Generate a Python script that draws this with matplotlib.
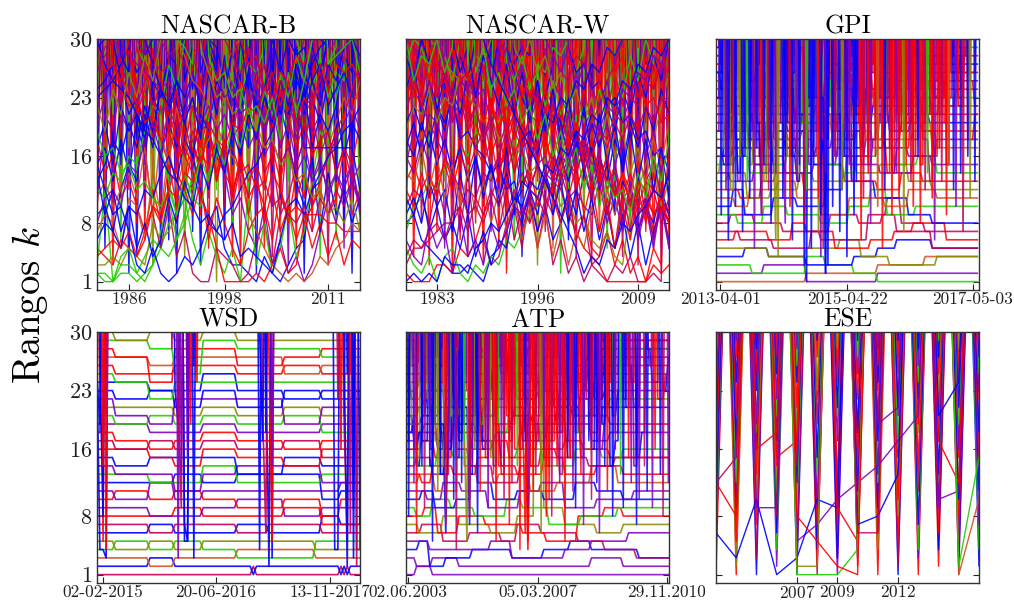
import re
import numpy as np
import pandas as pd
import matplotlib
matplotlib.use("Agg")
import matplotlib.pyplot as plt
import matplotlib.dates as mdates

plt.rcParams['font.family'] = 'serif'
plt.rcParams['font.serif'] = ['cmr10']
plt.rcParams['mathtext.fontset'] = 'cm'
plt.rcParams['axes.formatter.use_mathtext'] = True

# ---------------- data ----------------
# rank code: 1-9 -> 1..9, A..U -> 10..30, '.' -> outside the top 30
# a token "X*n" means rank X held for n consecutive time steps
# a spike token "s:X" means an entrant ranked X at step s only
RANK_KEY = "123456789ABCDEFGHIJKLMNOPQRSTU"
Y_TICKS = [1, 8, 16, 23, 30]

NB_YEARS = list(range(1982, 2016))
NB_TICKS = [1986, 1998, 2011]
NB_RANKS = [
    "22133246589BDGK.T.................",
    "5436547A8CFJ.NRU..................",
    "3C1452137B69EHM.R.................",
    "OPR.TQSU..MKGC8A53321421356CDGJ.T.",
    "...LJMH95A47211543126839BFIM.R....",
    "IEGBDA7C8FADJHLP.SU...............",
    "KNQT.US....RPMJGE9B75A3624137B8DF9",
    "..UPLNJOGKHMPNTQ.S..U..ROLQNKPMSQ.",
    "7985BA6E9HCGKIN.QTU...............",
    ".....TRLHD9B6374251C3825A47DJHNR..",
    "FHDIEKGNLQ.PT.S..RNQLOJNKQMSPU....",
    "....SPNKIFEC9D6B85379A6C8EBG......",
    "QTUS..RMOJLGIEKDHAFBJEG9KHNM.QS.U.",
    "ALJPN.ROU...TSQOMPKRNIOLRQU.......",
    "9A7CFDLHPK.S..U.......QMIDAG7E9C8B",
    "CBEDGFJMLROU....SPNRQT...UROSNQP.S",
    "....ULOIMGKCHFJEIBGDFCHDIBEAC9BH9C",
    "HKFMJLIPNSR..QUTPNLQMORLP..TQU....",
    "BDACEBH9JFMHNKQOS.......URPOMHKNLP",
    "6875A9CBEGDIGLJPNT.....QUSTPRMOQN.",
    ".U.QNTPSQR..UNRMOKPNIMJOLHKGIJEHFK",
    "P..ROMPQUSTRSPQMRIOLPKNMQJRNPSUR..",
    "DFIGKHMJOLPNQMUR.TP.SOUQNTLPMRPTUS",
    "8BCAFEIKGMJLQNS..US.QNPKOIMJLGIKMJ",
    "NOPRT.U..................NHHHHHHHC",
    "UQROMNKLIJGHFIDGECFBDAEC9A99988777",
    "211221235468BAEGK.Q...............",
    "33435438679DCGIKNQ................",
    "FC9A7325212435879ACEFHJMLPNRTU....",
    "......URPLIGEB9511112135238ADGJLOR",
    "..........USPOMKHGE975321212435687",
    "URPONLJIGEDBA89768454326AB9CEGHJKM",
    "QSU..TQROPNLMJKIGHEFCDAB98A7B9CADB",
    "..UTSRQPONMLNKMJLIKHJGIFHEGDFCEBDA",
    "JGHEFCDBAC9EBGDIFKHMJOLQNSPU.RT.U.",
    "..RPUNSLQJOHMFKDIBG9E8C7A695847365",
    "TU.SQ.UROMPKNIQLSJUO.RM.QKOHLJMGKI",
    "MJOLQNSPU.R..TQNOLMJKHIFGDEBC9A8B7",
    "E9C7A5846B8DAFCHEJGLINKPMRO.UT....",
    "4565746A9CBEDGFIHKJMLONQPSRU......",
    ".............URQNOLMPJMHKFIDGBECFA",
    "................USQTORMPKNILGJEHDF",
    "..........UTR.SPQNOLMKNIQLPU.RSTUQ",
    "..................URSOQMPKNLRORQRP",
]
NB_COLORS = "grgbmrpbngbrmpbgrbnbrmbpbrgobrnbmpgrbobrpm"
# drivers ranked in a single season only (one string per season)
NB_SINGLE = [
    "7CGJLNPQSTU", "5AEHKMORSTU", "39DGJLNQRTU", "6BFIKMPQSU", "2CEHJLORTU",
    "48DGIMNPSTU", "7AFHKLOQRU", "3BEIJMNPSTU", "59CGKLORSU", "6ADHJMPQTU",
    "28EFIKNORSU", "4BCGJLMPQTU", "7ADHKNOQRU", "39EGILMPSTU", "5BFHJKNORU",
    "1CDGILMPQSU", "6AEHJKOPRTU", "48BFIMNQSU", "3CDGJLORTU", "7AEHKMNPSTU",
    "29BFIJLOQRU", "5CDGHKMNQSU", "4AEFIJLPRTU", "6BCHKMNOQSU", "38DGIJLPRTU",
    "5AEFHKMOQSU", "2BCGIJNPRTU", "7ADFHLMOQSU", "49EGIKNPRTU", "3BCFJLMOQSU",
    "6ADHIKNPRTU", "58EGJLMOQSU", "2BCFHKNPRTU", "7ADGIJMOQSU",
]
NB_SINGLE_COLORS = "rbmpognbrmpbrg"

NW_YEARS = list(range(1979, 2014))
NW_TICKS = [1983, 1996, 2009]
NW_RANKS = [
    "89654322321457ACFJNR...............",
    "21113325469BEHLPT..................",
    "53241452132436579BDGJMQT...........",
    "ACB8D9F7E56348A5C7B9EDGIKMPRU......",
    "GEIFKHNJQMROTQU..S.PNLQJMHKFICGDFB9",
    "KMJOLQNSPU.R.TQNLPIMKGJEHCF9DB7A8C9",
    "...ROPMKNILGJEHCFADB8C695473624153.",
    "3556788ACBEDGFJHLKOMQPSRU..........",
    "...UTRQPNMKLIJGHEFCDAB8965743ACFIMQ",
    "QNSPUR..TORMPKNIQLOJMHKFIDGBEC9B7A8",
    "ORLPMKNIJHGEFCD9B7A68C9EBGDIFKHMJOL",
    "UTS.RQ.PON..USPRNOKMJLHIFGDEBCA9C8B",
    "7ABDCFEHGJILKNMPORQTSU..R.TSU......",
    "....URSPQNOKMJLHIFGDEBCA9D8B7C6A5B9",
    "IGKHMJOLQNSPU.RTS.U..TQROPMNKLIJGHE",
    "DFCEBGDIFKHMJOLQNSPU.RT...UQSOPMNKL",
    "NQMPLOKNJMILHKGJFIEHDGCFBE9D8CAB9A8",
    "PSORNQMPLOKNJMILHKGJFIEHDGCFBEADCBE",
    "B9C7A685947365A8C9EBGDIFKHMJOLQNSPU",
    "FJHLKNMPORQTSU.R..USQTOROMPKNILGJEH",
    "UTQ.NRK.MHJEG9C7B5A362413213241121.",
    "...............UQMIFC97543111111323",
    "HKGJFIEHDGCFBEADCBE9D8C7B6A594837A6",
    "RUTQ.SPU.QTN.RPSOQMPLNJMKOLQNSPUR.T",
    "LPNSQU.RT.UPSOMQKNILGJEHCF9D8B7A6C5",
    "CAEBDFCGEHFIDJEKGLHMINJOKPLQMRNSOTP",
    "TQU.RS.UPR..QTNRLPJNHLFJDH9F8D7B6A5",
    "9B8DAC7E9GBFAH9IJGLKNMPORQTSU......",
    "...UQRNPKMIKGJEHCFAD8B6934A5C7E9GB",
    "JMLOKNMQPSRU..TRUQSOQMOKNILGJEHCFAD",
    "EDHCGBFAE9D8C7B6A5948375A7C9EBGDIFK",
    "...UR.TPQNRLPJNHLFJDHBF9D7B5A6C8E9G",
    "SPUR..UQTNSPMRLQKPJOINHMGLFKEJDICHB",
    "4657869A7B9CADBECFDGEHFIGJHKILJMKNL",
    "64385729463857A9CBEDGFIHKJMLONQPSRU",
    "MROTQ.SUPR..UPSNQLOJMHKFIDGBEADC9B8",
    "UPSRUQT.R.TOQMOKMILGJEHCFADBC9EBGDI",
    "..........URPNLJHFDB97524365879ACBE",
    "QOMKIGEC9A8B7C6A8B9DCFEHGJILKNMPORQ",
    "12121433256879BADCFEHGJILKNMPORQTSU",
]
NW_COLORS = "brgmpbrmorbmgpbrmrbpmrbgmrpbmonrbmprgbm"
NW_SINGLE = [
    "6BEHKMPRTU", "4ACGJLNQSU", "8DFIKNOQTU", "3BEGJMPRSU", "7ACHKLOQTU",
    "5DFIJNPRSU", "29BGKMOQTU", "6ACEHLNRSU", "4DFIJMPQTU", "8BCGKLORSU",
    "3AEHJNPQTU", "7DFIKMORSU", "5BCGJLNQTU", "29AEHKMPRSU", "6DFIJNOQTU",
    "4BCGKLPRSU", "8AEHJMNQTU", "3DFIKLORSU", "7BCGJMPQTU", "5AEHKNORSU",
    "2DFIJLPQTU", "6BCGKMNRSU", "4AEHJLOQTU", "8DFIKMPRSU", "3BCGJNOQTU",
    "7AEHKLPRSU", "5DFIJMNQTU", "9BCGKLORSU", "4AEHJMPQTU", "6DFIKNORSU",
    "38BCGJLPQTU", "7AEHKMNRSU", "5DFIJLOQTU", "2BCGKMPRSU", "6AEHJNOQTU",
]
NW_SINGLE_COLORS = "rmpormrbmgrn"

GPI_START, GPI_STEPS = "2013-03-11", 111          # fortnightly
GPI_XLIM = ("2013-03-08", "2017-06-08")
GPI_TICKS = ["2013-04-01", "2015-04-22", "2017-05-03"]
GPI_LABELS = ["2013-04-01", "2015-04-22", "2017-05-03"]
GPI_RANKS = [
    "1*38 2*30 3*20 4*23",
    "2*20 3*18 1*30 2*43",
    "3*15 2*23 4*8 3*12 2*10 1*43",
    "4*12 5*10 4*16 3*20 4*10 5*8 6*15 5*20",
    "5*22 4*16 5*14 6*9 4*12 3*20 4*18",
    "6*8 7*14 6*10 8*6 7*12 5*15 6*10 7*8 8*14 6*14",
    "7*10 6*14 5*16 7*8 9*12 8*10 9*6 7*15 5*20",
    "8*6 9*10 8*12 7*16 6*20 9*8 B*6 8*10 7*23",
    "9*9 8*11 A*10 9*14 8*12 A*9 C*7 9*12 A*27",
    "A*7 C*5 9*12 B*10 A*12 C*8 .*3 D*10 B*14 9*10 8*20",
    "B*8 A*6 C*12 D*8 B*10 9*12 B*15 A*10 C*12 B*18",
    "C*10 B*9 D*6 E*12 C*10 .*2 F*5 D*14 C*10 E*9 D*24",
    "D*5 E*8 B*10 C*12 E*6 D*14 G*4 E*10 F*12 D*10 C*20",
    "E*6 D*10 F*8 G*5 E*12 F*10 H*6 F*12 E*14 G*8 F*20",
    "F*8 G*6 E*9 F*7 H*5 G*10 F*8 E*6 G*9 H*7 F*10 G*8 E*18",
    "G*7 H*9 F*6 .*2 I*8 G*10 H*7 J*5 G*9 I*8 H*10 G*12 I*18",
    "H*9 I*7 G*8 J*6 H*10 .*3 K*6 I*9 J*8 H*10 I*7 J*10 H*18",
    "I*6 J*8 H*7 K*9 I*6 J*10 L*5 J*8 .*2 K*7 I*10 K*9 J*24",
    "J*8 K*6 I*9 L*7 J*8 K*9 .*3 L*6 K*10 M*7 J*9 L*8 K*21",
    "K*7 L*9 J*6 M*8 K*7 .*4 M*6 L*10 N*5 K*9 M*8 L*10 M*22",
    "L*9 M*6 K*8 .*3 N*7 L*9 M*8 O*5 L*10 N*7 .*2 M*9 N*8 L*20",
    "M*6 N*8 L*7 O*9 M*6 .*3 N*8 P*5 M*9 O*7 N*10 .*2 O*8 N*23",
    "N*8 O*6 M*9 .*2 P*7 N*8 Q*5 O*9 .*3 P*7 N*10 O*8 P*8 O*21",
    "O*7 P*8 N*6 Q*7 .*3 O*9 P*6 R*5 .*2 Q*8 O*9 P*10 Q*7 P*24",
    "P*6 Q*7 .*2 R*8 P*6 Q*9 S*5 .*3 R*7 P*8 Q*10 .*2 R*9 Q*29",
    "Q*8 R*6 P*7 .*3 S*6 Q*9 R*7 .*2 T*5 R*8 S*9 .*3 Q*8 R*30",
    "R*5 S*7 .*3 T*6 R*8 .*2 S*9 U*5 .*3 T*7 R*9 S*8 .*2 T*7 S*30",
    "S*6 .*2 T*7 U*5 .*3 S*8 T*6 .*2 U*7 S*9 .*3 T*8 R*7 .*2 U*6 T*30",
    "T*5 U*6 .*4 S*7 .*3 U*6 T*8 .*2 S*7 U*6 .*3 T*9 .*2 S*8 U*5 .*30",
    "U*7 .*3 T*6 .*4 U*5 S*6 .*3 T*7 U*4 .*2 R*6 .*3 U*8 T*7 .*2 S*28",
    "N*2 .*1 K*3 M*2 .*2 P*3 L*4 .*1 O*2 R*3 .*2 J*4 H*3 .*3 S*2 M*4 .*1 Q*3 N*2 .*4 L*3 I*5 .*2 T*2 O*3",
    "Q*3 T*2 .*2 N*4 R*2 .*3 M*3 P*2 .*1 U*2 L*3 .*2 O*4 K*2 .*3 R*2 N*3 .*1 4*1 .*2 P*3 S*2 .*2 M*4 Q*2 .*3 N*2 T*3 .*5 R*2 O*3",
    ".*2 S*3 P*2 U*3 .*2 Q*4 M*2 .*3 T*2 O*3 R*2 .*2 K*4 N*2 .*1 3*1 .*1 S*3 P*2 .*3 Q*4 U*2 .*2 O*3 L*3 .*4 R*2 T*3 .*2 N*4 .*3 P*2",
    "K*4 I*3 .*1 L*3 N*2 J*4 .*2 M*3 H*4 K*2 .*2 O*3 L*4 .*1 I*3 G*2 .*2 5*1 .*2 M*3 J*4 .*3 N*2 P*3 .*2 L*3 O*4 .*3 Q*2 S*3",
    "T*2 .*3 R*2 O*3 .*1 Q*4 U*2 .*2 S*3 P*2 .*4 N*3 R*2 .*2 T*3 M*2 .*1 Q*3 .*2 2*1 .*1 O*3 S*2 .*2 P*4 .*3 R*2 U*3 .*4 Q*2 N*3",
    "P*3 M*2 .*2 R*3 O*2 .*1 N*4 Q*2 .*3 L*2 P*3 .*2 S*2 N*4 .*1 K*3 O*2 .*2 7*1 .*1 Q*3 M*2 .*4 R*3 P*2 .*2 N*3 .*5 T*2 O*2 .*6 S*3",
    "S*4 .*2 P*3 U*2 .*3 R*2 N*3 .*1 Q*4 T*2 .*2 O*3 .*2 S*2 P*4 .*3 R*2 M*3 .*2 Q*3 U*2 .*3 N*4 P*2 .*2 T*3 R*2 .*4 O*3 Q*2 S*2",
    "U*2 R*3 .*3 T*2 Q*3 .*2 S*4 O*2 .*3 U*2 R*3 .*2 P*4 .*1 T*2 S*3 .*2 Q*4 N*3 .*2 R*2 U*3 .*1 O*4 L*2 .*2 Q*3 N*2 .*1 S*3 P*4 .*2 M*3",
    ".*50 R*3 O*2 .*2 T*3 P*2 .*1 M*4 Q*2 .*2 N*3 K*2 .*3 S*2 O*4 .*1 R*3 L*2 .*2 P*4 N*3 .*2 T*2 Q*3",
    ".*45 N*4 .*2 Q*3 S*2 .*3 O*4 M*2 .*1 R*3 P*2 .*2 U*3 N*4 .*2 K*3 .*1 Q*2 O*4 .*3 M*3 R*2 .*2 P*3 T*2",
    ".*55 P*2 T*3 .*2 R*4 N*2 .*1 S*3 Q*2 .*3 O*2 L*4 .*2 U*3 R*2 .*1 N*3 P*4 .*2 S*2 M*3 .*1 Q*4",
    ".*40 S*3 .*2 U*2 Q*4 .*1 O*3 R*2 .*2 M*4 P*3 .*3 T*2 N*3 .*2 Q*4 K*2 .*1 R*3 O*2 .*2 L*4 N*3 .*1 S*2 U*3",
    ".*60 L*3 I*2 .*2 O*4 M*3 .*1 Q*2 J*3 .*3 N*4 K*2 .*2 P*3 R*2 .*1 M*4 O*3 .*2 I*3 L*2",
    ".*62 U*3 R*2 .*1 T*4 P*3 .*2 S*2 Q*3 .*1 O*4 R*2 .*3 N*3 U*2 .*2 Q*4 S*3 .*1 P*2 M*3",
    "R*3 .*3 O*2 T*3 .*2 Q*4 .*40 S*2 P*3 .*2 R*4 N*2 .*3 U*2 Q*3 .*1 O*4 M*2 .*2 S*3 R*2 .*2 P*4 T*3 .*1 N*3",
    "M*5 O*3 .*2 L*4 N*3 .*1 K*5 P*2 .*3 I*4 M*3 .*2 J*4 L*3 .*1 N*4 K*3 .*2 H*5 J*3 .*2 L*4 I*3 .*1 M*4 K*3 .*2 N*4 L*3",
    "O*4 Q*3 .*2 N*5 P*2 .*3 L*4 O*3 .*1 R*4 M*3 .*2 K*5 N*2 .*2 P*4 L*3 .*1 O*3 Q*4 .*2 M*3 N*4 .*3 R*2 O*3 .*1 L*5 P*3",
    "H*3 F*4 .*1 I*3 G*2 .*2 J*4 E*3 .*2 K*2 H*4 .*1 G*3 J*2 .*2 1*1 .*2 F*4 I*3 .*2 L*3 G*2 .*3 H*4 K*2",
    "J*6 L*4 .*2 H*5 K*3 .*1 M*4 I*5 .*2 G*6 J*4 .*2 L*5 H*3 .*1 K*5 N*3 .*2 I*6 L*4 .*2 J*5 M*4 .*1 K*6 H*4",
    "L*4 .*2 N*3 J*4 .*1 O*3 K*4 .*2 M*5 P*3 .*1 I*4 L*3 .*2 N*5 Q*2 .*1 K*4 M*3 .*2 J*5 O*3 .*1 L*4 N*3 .*2 P*4 K*3",
    "Q*2 O*3 .*1 S*2 M*4 .*2 P*3 R*2 .*1 N*4 U*2 .*3 O*3 Q*2 .*1 L*3 T*2 .*2 N*4 2*1 .*3 R*3 P*2 .*2 S*3 O*2",
    ".*35 T*2 Q*3 .*1 R*4 U*2 .*2 O*3 S*2 .*1 P*4 N*3 .*2 T*2 R*3 .*1 Q*4 M*2 .*2 U*3 O*2 .*1 S*4 P*3 .*2 R*3 N*2 .*1 Q*3",
    "J*2 .*2 F*2 .*1 L*2 D*2 .*3 I*2 .*2 G*2 N*2 .*1 E*2 .*2 K*2 8*1 .*2 H*2 .*3 M*2 F*2 .*1 J*2",
    ".*3 G*2 .*2 M*2 E*2 .*1 H*3 .*2 K*2 9*1 .*2 I*2 F*2 .*3 L*2 .*1 G*2 D*2 .*2 N*2",
    "E*2 H*2 .*2 C*2 .*1 J*3 .*2 F*2 L*2 .*2 D*2 .*1 I*2 6*1 .*2 K*2 G*2 .*2 E*2",
    ".*55 I*2 .*2 L*2 F*2 .*1 N*2 .*2 H*3 K*2 .*1 E*2 .*2 J*2 M*2 .*1 G*2 .*2 I*3 D*2 .*2 L*2 .*1 F*2",
    ".*60 K*2 G*3 .*2 M*2 .*1 I*2 E*2 .*2 L*3 .*1 H*2 N*2 .*2 F*2 .*1 J*3 G*2 .*2 K*2",
    ".*50 G*2 .*2 J*3 D*2 .*1 M*2 .*2 F*2 I*2 .*1 K*3 .*2 E*2 H*2 .*2 L*2 .*1 I*3",
]
GPI_COLORS = ("npgbormmgbnropgpnrbomgrpmbrgop"
              "bpbmbopmrnrmrmrogbnpbrpbomrp")
GPI_SPIKES = ("2:9 4:C 5:6 7:E 8:A 10:G 11:7 13:D 14:B 16:5 17:H 19:9 20:F "
              "22:C 23:8 25:E 26:4 28:B 29:G 31:A 32:6 34:D 35:F 37:8 38:C "
              "40:5 41:H 43:B 44:9 46:E 47:3 49:A 50:G 52:7 53:C 55:4 56:F "
              "58:9 59:D 61:6 62:B 64:E 65:8 67:G 68:A 70:5 71:C 73:H 74:9 "
              "76:E 77:B 79:7 80:F 82:D 83:A 85:G 86:8 88:C 89:E 91:B 92:6 "
              "94:H 95:D 97:9 98:F 100:C 101:A 103:E 104:7 106:G 107:B 109:D")
GPI_SPIKE_COLORS = ("bpbmbobgbpbrbmbpobbrbpbmgbbrbpbbmbobpbb"
                    "rmrprnrbmrprormrbrmgrprmrn")

WSD_START, WSD_STEPS = "2015-01-05", 86          # fortnightly
WSD_XLIM = ("2015-01-06", "2018-03-27")
WSD_TICKS = ["2015-02-02", "2016-06-20", "2017-11-13"]
WSD_LABELS = ["02-02-2015", "20-06-2016", "13-11-2017"]
WSD_RANKS = [
    "1*50 2*1 1*27 2*1 1*1 2*1 1*5",
    "2*17 3*8 2*25 1*1 2*27 1*1 2*1 1*1 2*5",
    "3*17 2*8 3*20 4*25 3*16",
    "4*6 5*11 4*8 5*9 4*11 3*25 5*16",
    "5*6 4*11 5*8 4*9 5*11 5*25 4*16",
    "6*17 7*8 6*20 7*10 6*17 8*6 7*8",
    "7*17 6*8 7*20 6*10 7*17 6*14",
    "8*25 9*9 8*11 8*15 9*12 7*14",
    "9*17 8*8 8*9 9*11 A*15 8*12 9*14",
    "A*6 B*11 A*8 B*9 A*11 9*15 A*12 8*6 A*8",
    "B*6 A*11 C*8 A*9 B*11 B*15 B*12 B*6 C*8",
    "C*25 D*9 C*11 D*27 A*6 B*8",
    "D*17 C*8 C*9 E*11 C*15 C*12 D*14",
    "E*6 D*11 D*8 B*9 D*11 E*27 C*14",
    "F*6 E*11 F*8 F*9 F*11 D*15 F*12 E*14",
    "G*17 F*8 E*9 G*11 F*15 E*12 G*14",
    "H*6 G*11 H*8 G*9 H*11 G*15 H*12 F*14",
    "I*6 H*11 G*8 H*9 I*11 H*15 G*12 H*14",
    "J*17 I*8 I*9 J*11 I*15 I*12 J*14",
    "K*6 J*11 K*8 J*9 K*11 J*15 K*12 I*14",
    "L*17 L*8 K*9 L*11 K*15 L*12 K*14",
    "M*6 K*11 J*8 M*9 M*11 M*15 J*12 L*14",
    "N*6 M*11 N*8 L*9 N*11 L*15 N*12 M*14",
    "O*17 N*8 N*9 P*11 N*15 M*12 N*14",
    "P*6 O*11 M*8 O*9 O*11 O*15 O*12 O*14",
    "Q*6 P*11 P*8 Q*9 Q*11 P*15 Q*12 P*14",
    "R*17 Q*8 R*9 R*11 R*15 P*12 Q*14",
    "S*6 R*11 O*8 S*9 S*11 Q*15 R*12 S*14",
    "T*17 S*8 P*9 T*11 S*15 S*12 R*14",
    "U*6 T*11 U*8 T*9 U*11 T*15 T*12 T*14",
    "R*1 4*2 3*1 .*82",
    "G*1 .*1 5*1 .*83",
    "I*2 .*1 K*1 .*82",
    ".*1 Q*1 8*1 .*83",
    "M*1 .*2 4*1 .*82",
    ".*3 N*1 .*82",
    "P*1 J*1 .*84",
    ".*2 E*1 .*83",
    ".*25 N*1 J*1 .*1 5*2 .*1 Q*1 .*55",
    ".*26 3*1 .*2 H*1 .*56",
    ".*28 7*1 5*1 .*1 U*1 .*55",
    ".*24 S*1 .*1 L*1 9*1 .*58",
    ".*29 N*1 .*1 3*1 .*54",
    ".*30 J*1 .*1 O*1 .*53",
    ".*27 D*1 .*1 F*1 .*56",
    ".*52 4*1 .*1 Q*1 2*1 .*31",
    ".*53 K*1 6*1 .*31",
    ".*54 I*1 .*1 3*1 .*29",
    ".*55 R*1 5*1 .*29",
    ".*52 U*1 H*1 .*32",
    ".*56 E*1 .*29",
    ".*76 4*2 .*1 K*1 .*2 3*1 .*3",
    ".*77 M*1 .*1 J*1 5*1 .*5",
    ".*79 R*1 2*1 .*1 9*1 .*3",
    ".*78 G*1 .*2 P*1 .*4",
    ".*81 6*1 .*1 4*2 .*1",
    ".*80 P*1 .*1 H*1 .*3",
    ".*83 2*1 .*1 S*1",
    ".*82 D*1 .*1 7*1 .*1",
]
WSD_COLORS = "mbngobmrprpbgpbrmrpgopbbgrnrgobrpbrmbrbpbmbrpbmbrbpbmbrmb"

ATP_START, ATP_STEPS = "2003-05-12", 100          # four-weekly
ATP_XLIM = ("2003-05-12", "2010-12-20")
ATP_TICKS = ["2003-06-02", "2007-03-05", "2010-11-29"]
ATP_LABELS = ["02.06.2003", "05.03.2007", "29.11.2010"]
ATP_RANKS = [
    "3*4 2*6 1*90",
    "1*4 2*6 3*10 2*50 3*12 2*18",
    "4*5 5*4 2*6 3*10 4*15 3*12 4*10 5*8 4*18 3*12",
    "5*9 4*11 4*12 5*8 3*20 4*10 5*14 6*16",
    "6*6 7*8 5*10 6*12 5*6 7*9 6*14 5*10 4*12 3*13",
    "7*5 6*9 8*6 7*12 6*10 8*7 .*3 9*8 7*12 6*10 7*18",
    "8*7 9*5 6*8 8*10 7*14 6*9 5*12 8*10 9*7 8*18",
    "9*4 8*6 A*7 9*9 8*12 A*6 9*10 7*12 8*14 9*20",
    "A*6 B*5 9*8 A*6 .*2 C*6 A*9 B*10 A*12 C*8 B*10 A*18",
    "B*8 A*6 C*7 B*10 9*12 B*8 C*9 9*12 A*14 B*14",
    "C*5 D*6 B*9 .*2 E*5 C*8 D*12 B*10 C*13 E*10 C*20",
    "D*6 C*4 E*8 D*9 F*5 .*3 E*7 D*10 F*8 D*12 E*10 D*18",
    "E*4 F*6 D*7 .*2 G*5 E*9 C*10 E*8 G*6 F*12 E*10 F*21",
    "F*5 E*7 G*6 F*8 .*3 H*4 F*9 G*10 E*12 G*10 F*8 G*18",
    "G*6 H*5 F*7 .*2 I*5 G*8 H*6 F*7 J*5 G*9 H*7 G*10 F*23",
    "H*5 I*7 G*6 J*5 .*3 H*8 I*6 K*4 H*9 I*7 .*2 J*8 H*7 I*23",
    "I*7 J*5 H*6 K*7 I*5 .*3 J*8 L*4 I*9 K*6 J*8 .*2 K*7 J*23",
    "J*6 K*7 .*2 L*5 J*8 K*6 M*4 .*3 K*7 J*9 L*6 K*8 .*2 L*27",
    "K*5 L*6 J*7 .*3 M*5 K*8 L*6 .*2 N*4 L*9 M*7 K*8 L*7 M*23",
    "L*7 M*5 .*2 N*6 L*7 M*8 .*3 O*4 M*8 N*6 L*9 .*2 M*8 N*25",
    "M*6 N*7 L*5 .*3 O*6 M*8 .*2 P*4 N*8 O*7 M*9 .*2 N*7 O*26",
    "N*5 O*6 .*3 P*7 N*6 .*2 O*8 Q*4 .*3 P*7 N*8 O*9 .*2 P*30",
    "O*6 P*5 N*7 .*3 Q*5 O*7 .*2 R*4 P*8 .*3 Q*7 O*9 P*8 Q*26",
    "P*7 .*2 Q*6 R*5 .*3 P*8 Q*6 .*2 S*5 Q*8 .*3 R*7 P*9 R*29",
    "Q*5 R*6 .*3 S*7 Q*5 .*2 R*8 T*4 .*3 S*7 R*8 .*2 Q*9 S*31",
    "R*6 .*3 S*5 T*6 .*2 R*7 S*6 .*3 U*4 T*7 .*2 S*8 R*7 .*2 T*32",
    "S*5 T*4 .*3 U*6 .*2 S*7 .*3 T*6 U*5 .*2 S*8 T*6 .*3 U*7 S*33",
    "T*6 .*3 U*5 .*2 T*6 S*5 .*3 U*6 T*7 .*2 U*5 .*3 T*8 U*6 .*2 T*31",
    "U*4 .*3 T*5 .*4 U*6 .*2 R*5 .*3 U*7 .*2 T*6 .*3 S*5 U*6 .*2 U*37",
    "P*2 M*3 .*1 K*2 N*3 .*2 I*2 6*1 L*3 .*1 O*2 J*3 .*2 M*2 H*3 .*1 K*2",
    "S*3 .*2 O*2 R*3 .*1 N*2 Q*2 .*3 L*3 P*2 .*1 T*2 M*3 .*2 O*2 R*3",
    "K*3 H*2 .*2 M*3 J*2 .*1 N*2 G*3 .*2 L*2 O*3 .*1 I*2 M*3 .*2 K*2",
    ".*2 Q*3 T*2 .*1 O*3 R*2 .*2 M*3 P*2 .*1 U*2 N*3 .*2 L*3 Q*2 .*1 S*2",
    "N*2 .*2 R*3 P*2 .*1 T*3 O*2 .*2 Q*3 .*40 M*2 P*3 .*1 S*2 N*3 .*2 R*2 O*3 .*1 U*2 Q*3",
    ".*30 O*3 L*2 .*1 Q*3 N*2 .*2 K*3 4*1 P*2 .*1 M*3 R*2 .*2 J*3 O*2 .*1 L*3 N*2 .*2 I*3 M*2 .*1 P*3",
    ".*28 S*2 P*3 .*2 U*2 R*3 .*1 O*2 T*3 .*2 Q*2 N*3 .*1 S*2 P*3 .*2 M*2 R*3 .*1 O*2 Q*3 .*2 T*2",
    ".*33 L*3 .*1 O*2 J*3 .*2 N*2 5*1 K*3 .*1 M*2 H*3 .*2 P*2 L*3 .*1 I*2 N*3 .*2 K*2 O*3",
    ".*35 R*2 .*2 T*3 Q*2 .*1 O*3 S*2 .*2 N*3 U*2 .*1 P*3 R*2 .*2 M*3 Q*2 .*1 T*3 O*2",
    ".*32 N*3 Q*2 .*1 P*3 .*2 M*2 O*3 .*1 K*2 R*3 .*2 L*2 N*3 .*1 J*2 P*3 .*2 M*2",
    ".*65 O*2 R*3 .*1 M*2 P*3 .*2 K*2 N*3 .*1 Q*2 L*3 .*2 S*2 O*3 .*1 N*2 R*3",
    ".*68 Q*3 .*1 N*2 S*3 .*2 P*2 .*1 R*3 O*2 .*2 U*3 Q*2 .*1 M*3 P*2 .*2 T*3",
    "M*4 O*3 .*2 L*4 N*3 .*1 K*4 P*2 .*3 J*4 M*3 .*2 I*4 L*3 .*1 N*4 K*3 .*2 H*4 J*3 .*2 L*4 I*3 .*1 M*4 K*3 .*2 N*4",
    "Q*3 T*2 .*2 O*4 R*3 .*1 P*4 S*2 .*3 N*4 Q*3 .*2 M*4 P*3 .*1 R*4 O*3 .*2 L*4 N*3 .*2 Q*4 S*3 .*1 O*4",
    "U*2 .*2 S*3 P*2 .*1 R*3 U*2 .*2 Q*3 T*2 .*1 O*3 S*2 .*2 N*3 R*2 .*1 P*3 U*2 .*2 Q*3 S*2 .*1 O*3 T*2 .*2 R*3 P*2 .*1 S*3 U*2 .*2 Q*3",
    "I*3 K*2 .*1 H*3 .*2 J*3 G*2 .*1 L*3 I*2 .*2 K*3",
    ".*40 R*3 O*2 .*2 T*3 .*1 Q*2 N*3 .*2 S*3 P*2 .*1 U*3 R*2 .*2 O*3",
    ".*45 J*2 M*3 .*1 L*2 .*2 O*3 I*2 .*1 N*3 K*2 .*2 M*3 .*1 H*2 L*3",
    "H*2 .*2 E*2 K*2 .*1 G*2 .*2 D*2 I*2 .*2 F*2 .*1 L*2 7*1 .*2 J*2 G*2 .*2 E*2",
    ".*2 J*2 F*2 .*2 M*2 .*1 H*2 E*2 .*2 K*2 .*2 I*2 5*1 .*2 G*2 L*2 .*2 F*2",
    "L*2 .*1 G*2 I*2 .*2 E*2 .*2 J*2 F*2 .*1 M*2 H*2 .*2 D*2 .*1 K*2",
    ".*30 F*2 .*2 J*2 D*2 .*1 H*2 .*2 L*2 6*1 .*2 G*2 K*2 .*1 E*2 .*2 I*2 .*1 M*2 F*2",
    ".*34 I*2 E*2 .*2 K*2 .*1 G*2 .*2 M*2 H*2 .*1 F*2 .*2 J*2 D*2 .*2 L*2",
    ".*38 K*2 .*1 G*2 I*2 .*2 E*2 .*2 L*2 8*1 .*1 H*2 .*2 J*2 F*2 .*2 N*2",
    ".*60 H*2 .*2 L*2 F*2 .*1 J*2 .*2 G*2 K*2 .*2 I*2 .*1 M*2 .*2 E*2",
    ".*70 G*2 .*2 J*2 .*1 E*2 H*2 .*2 L*2 .*2 F*2 I*2",
]
ATP_COLORS = ("ppbpmorgbpnrmgrpmbgpnormbpgrp"
              "bpbmrrmrpmbrgopbnmbobrmrpb")
ATP_SPIKES = ("1:8 3:C 4:6 6:E 7:9 9:G 10:5 12:B 13:D 15:7 16:F 18:A 19:4 "
              "21:C 22:H 24:8 25:E 27:6 28:B 30:G 31:9 33:D 34:5 36:F 37:A "
              "39:7 40:C 42:E 43:4 45:H 46:9 48:B 49:D 51:6 52:G 54:A 55:8 "
              "57:E 58:C 60:5 61:F 63:B 64:9 66:D 67:7 69:H 70:A 72:C 73:6 "
              "75:E 76:B 78:8 79:G 81:D 82:9 84:F 85:C 87:7 88:A 90:E 91:B "
              "93:9 94:G 96:D 97:8 99:C")
ATP_SPIKE_COLORS = ("bprbmpbobrpbmbgrpb"
                    "rmprrpmrmgrbprmoprmrpr"
                    "bpbrpbmbpbrbpgbrpbpm")

ESE_YEARS = list(range(2003, 2017))
ESE_TICKS = [2007, 2009, 2012]
# entrants ranked in a single season only (one string per season)
ESE_SINGLE = [
    "1468BEGJMNQSU", "1259CFHKLORTU", "137ADGIJNPQSU", "24689BEHKMPRT",
    "1359CEGILOQSU", "12479DFJMNRTU", "1368ACHKLOQS", "2357BEGIMPRTU",
    "1469CDHJNOQSU", "1258AFGKLPRT", "1347BEIJMOQSU", "2469CDHKNPRT",
    "1358AFGJLOQSU", "247BEHIMNPRT",
]
ESE_RANKS = [
    "....57ACEHK...",
    "63A13A9.......",
    "C8.FH.95......",
    "....1114......",
    "....22.3......",
    "....8521......",
    ".......78D....",
    ".......66.....",
    "...........AB.",
    "...........HC.",
    "CF............",
    "............1A",
    "............2F",
    "..99..........",
    "..GI..........",
    "...........KO.",
    "........JL....",
]
ESE_COLORS = "pbrgorbmprmngprbp"
ESE_SINGLE_COLORS = "rbgpbmrbrpgbmro"

PALETTE = {'r': '#ff0000', 'g': '#22cc00', 'b': '#0000ff', 'p': '#8000c0',
           'o': '#8a8a00', 'n': '#d2501e', 'm': '#c0005a'}


# ---------------- helpers ----------------
TOKEN = re.compile(r"([1-9A-U.])(?:\*(\d+))?")
SPIKE = re.compile(r"(\d+):([1-9A-U])")


def decode(s, n, out):
    vals = []
    for ch, cnt in TOKEN.findall(s):
        v = out if ch == '.' else RANK_KEY.index(ch) + 1
        vals.extend([v] * (int(cnt) if cnt else 1))
    vals = vals[:n] + [out] * max(0, n - len(vals))
    return np.array(vals, float)


def draw_series(ax, x, series, colors, out, lw, alpha=0.9):
    x = np.asarray(x, float)
    for i, s in enumerate(series):
        y = decode(s, len(x), out)
        ax.plot(x, y, color=PALETTE[colors[i % len(colors)]], lw=lw,
                alpha=alpha, solid_joinstyle='round')


def draw_single(ax, years, singles, colors, out, lw):
    k = 0
    for j, ranks in enumerate(singles):
        yr = years[j]
        for ch in ranks:
            r = RANK_KEY.index(ch) + 1
            ax.plot([yr - 1, yr, yr + 1], [out, r, out],
                    color=PALETTE[colors[k % len(colors)]], lw=lw, alpha=0.9)
            k += 1


def draw_spikes(ax, x, spikes, colors, out, lw, alpha=0.85):
    x = np.asarray(x, float)
    for k, (st, ch) in enumerate(SPIKE.findall(spikes)):
        i = int(st)
        r = RANK_KEY.index(ch) + 1
        lo, hi = max(i - 1, 0), min(i + 1, len(x) - 1)
        ax.plot([x[lo], x[i], x[hi]], [out, r, out],
                color=PALETTE[colors[k % len(colors)]], lw=lw, alpha=alpha)


def style(ax, title, show_ylabels):
    ax.set_ylim(0, 30)
    ax.set_yticks(Y_TICKS)
    ax.tick_params(axis='both', direction='in', length=4, width=0.8,
                   top=False, right=True, colors='#222222')
    ax.tick_params(axis='y', labelsize=16, labelleft=show_ylabels)
    ax.tick_params(axis='x', labelsize=12.5, pad=1)
    for sp in ax.spines.values():
        sp.set_linewidth(1.0)
        sp.set_color('#333333')
    ax.set_title(title, fontsize=18.5, pad=3)


def dnum(d):
    return mdates.date2num(pd.to_datetime(d))


fig = plt.figure(figsize=(10.14, 6.01), dpi=100)
W = 1014.0
H = 601.0
lefts = [97, 406, 716]
width = 263
rows = [(39, 290), (332, 583)]


def make_ax(col, row):
    t, b = rows[row]
    return fig.add_axes([lefts[col] / W, 1 - b / H, width / W, (b - t) / H])


NASCAR_OUT = 55
STEP_OUT = 60
ESE_OUT = 90

# NASCAR-B
ax = make_ax(0, 0)
draw_single(ax, NB_YEARS, NB_SINGLE, NB_SINGLE_COLORS, NASCAR_OUT, 1.0)
draw_series(ax, NB_YEARS, NB_RANKS, NB_COLORS, NASCAR_OUT, 1.0)
ax.set_xlim(1982, 2015)
ax.set_xticks(NB_TICKS)
style(ax, "NASCAR-B", True)

# NASCAR-W
ax = make_ax(1, 0)
draw_single(ax, NW_YEARS, NW_SINGLE, NW_SINGLE_COLORS, NASCAR_OUT, 1.0)
draw_series(ax, NW_YEARS, NW_RANKS, NW_COLORS, NASCAR_OUT, 1.0)
ax.set_xlim(1979, 2013)
ax.set_xticks(NW_TICKS)
style(ax, "NASCAR-W", False)

# GPI
ax = make_ax(2, 0)
gx = dnum(pd.date_range(GPI_START, periods=GPI_STEPS, freq='14D'))
draw_series(ax, gx, GPI_RANKS, GPI_COLORS, STEP_OUT, 1.2, 0.85)
draw_spikes(ax, gx, GPI_SPIKES, GPI_SPIKE_COLORS, STEP_OUT, 1.2)
ax.set_xlim(dnum(GPI_XLIM[0]), dnum(GPI_XLIM[1]))
ax.set_xticks([dnum(d) for d in GPI_TICKS])
ax.set_xticklabels(GPI_LABELS)
style(ax, "GPI", False)

# WSD
ax = make_ax(0, 1)
wx = dnum(pd.date_range(WSD_START, periods=WSD_STEPS, freq='14D'))
draw_series(ax, wx, WSD_RANKS, WSD_COLORS, STEP_OUT, 1.2)
ax.set_xlim(dnum(WSD_XLIM[0]), dnum(WSD_XLIM[1]))
ax.set_xticks([dnum(d) for d in WSD_TICKS])
ax.set_xticklabels(WSD_LABELS)
style(ax, "WSD", True)

# ATP
ax = make_ax(1, 1)
tx = dnum(pd.date_range(ATP_START, periods=ATP_STEPS, freq='28D'))
draw_series(ax, tx, ATP_RANKS, ATP_COLORS, STEP_OUT, 1.2, 0.85)
draw_spikes(ax, tx, ATP_SPIKES, ATP_SPIKE_COLORS, STEP_OUT, 1.1)
ax.set_xlim(dnum(ATP_XLIM[0]), dnum(ATP_XLIM[1]))
ax.set_xticks([dnum(d) for d in ATP_TICKS])
ax.set_xticklabels(ATP_LABELS)
style(ax, "ATP", False)

# ESE
ax = make_ax(2, 1)
draw_single(ax, ESE_YEARS, ESE_SINGLE, ESE_SINGLE_COLORS, ESE_OUT, 1.0)
draw_series(ax, ESE_YEARS, ESE_RANKS, ESE_COLORS, ESE_OUT, 1.0)
ax.set_xlim(2003, 2016)
ax.set_xticks(ESE_TICKS)
style(ax, "ESE", False)

fig.text(0.03, 0.4925, "Rangos $k$", rotation=90, fontsize=28,
         ha='center', va='center')

fig.savefig("out.png", dpi=100)
